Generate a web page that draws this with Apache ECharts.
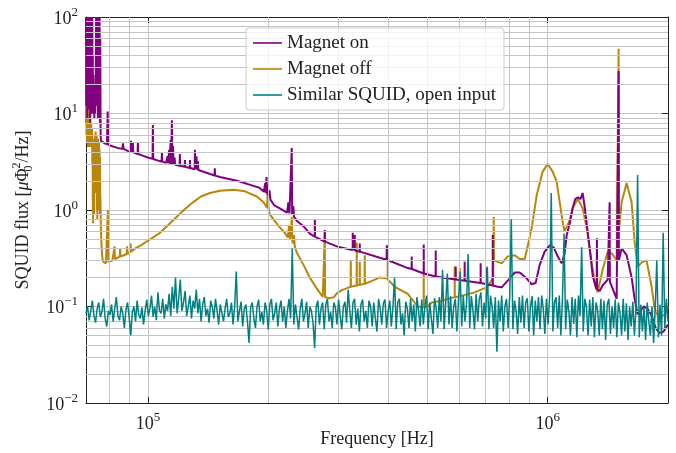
<!DOCTYPE html>
<html>
<head>
<meta charset="utf-8">
<title>SQUID flux spectrum</title>
<script src="https://cdn.jsdelivr.net/npm/echarts@6.0.0/dist/echarts.min.js"></script>
<style>
    html, body { margin: 0; padding: 0; background: #fff; }
    #chart { width: 676px; height: 453px; }
</style>
</head>
<body>
<div id="chart"></div>
<script>
    // [frequency Hz, flux]
    var magnetOn = [
        [70000, 100], [70100, 12], [70200, 100], [70300, 30], [70400, 100], [70500, 9], [70600, 100],
        [70700, 25], [70800, 100], [70900, 14], [71000, 100], [71100, 40], [71200, 100], [71300, 11],
        [71400, 100], [71500, 20], [71600, 100], [71700, 8], [71800, 60], [71900, 15], [72000, 100],
        [72100, 30], [72200, 100], [72300, 10], [72400, 100], [72500, 18], [72600, 100], [72700, 12],
        [72800, 40], [72900, 10], [73000, 25], [73150, 11], [73300, 16], [73450, 9], [73600, 20], [73750, 10],
        [73900, 14], [74050, 30], [74200, 100], [74350, 12], [74500, 100], [74650, 20], [74800, 100],
        [74950, 9], [75100, 100], [75250, 30], [75400, 100], [75550, 14], [75700, 100], [75850, 8],
        [76000, 60], [76150, 6], [76300, 5.2], [76800, 5.0], [78000, 4.9], [79000, 4.8], [79300, 10.5],
        [79600, 4.75], [81000, 4.6], [84000, 4.4], [86300, 4.3], [86600, 4.9], [86900, 4.3], [89000, 4.1],
        [90500, 4.0], [90700, 5.2], [90900, 4.0], [91500, 3.95], [91700, 5.0], [91900, 3.95], [94200, 3.8],
        [94400, 5.0], [94600, 3.8], [98000, 3.6], [101000, 3.45], [102700, 3.4], [102900, 7.6], [103100, 3.38],
        [106000, 3.25], [108200, 3.18], [108400, 3.9], [108600, 3.17], [111000, 3.08], [112000, 3.6],
        [112300, 3.05], [113000, 4.2], [113300, 3.02], [114000, 5.3], [114300, 3.0], [114800, 8.5],
        [115100, 3.0], [115600, 4.6], [115900, 2.98], [116600, 3.5], [117000, 2.95], [120000, 2.88],
        [120200, 3.8], [120400, 2.87], [123600, 2.8], [123800, 3.3], [124000, 2.8], [127200, 2.72],
        [127400, 3.3], [127600, 2.72], [130900, 2.65], [131100, 4.2], [131400, 2.65], [132300, 3.6],
        [132600, 2.62], [133200, 2.6], [133400, 3.2], [133700, 2.6], [135000, 2.5], [146800, 2.28],
        [147000, 2.7], [147200, 2.27], [151400, 2.2], [168000, 2.0], [182000, 1.8], [190000, 1.7],
        [195000, 1.55], [196500, 1.9], [197000, 1.5], [198000, 2.2], [198800, 1.45], [199500, 1.8],
        [200500, 1.35], [201500, 1.6], [202500, 1.28], [207000, 1.12], [213800, 1.04], [220000, 0.97],
        [223000, 0.94], [224500, 1.2], [226000, 0.92], [228500, 0.9], [229000, 4.4], [229500, 0.9],
        [231000, 1.1], [232000, 0.85], [236000, 0.77], [245000, 0.68], [254000, 0.57], [261300, 0.53],
        [261600, 0.79], [261900, 0.53], [276700, 0.47], [277000, 0.62], [277300, 0.47], [296800, 0.42],
        [320000, 0.39], [325200, 0.385], [325400, 0.58], [325700, 0.385], [329000, 0.38], [329200, 0.55],
        [329500, 0.38], [338500, 0.37], [338800, 0.45], [339100, 0.37], [380200, 0.32], [395500, 0.305],
        [395800, 0.43], [396100, 0.305], [446700, 0.25], [456800, 0.245], [457100, 0.33], [457400, 0.245],
        [489500, 0.22], [489800, 0.44], [490100, 0.22], [524500, 0.205], [524800, 0.38], [525100, 0.205],
        [588500, 0.19], [588800, 0.26], [589100, 0.19], [619700, 0.185], [620000, 0.29], [620300, 0.185],
        [679500, 0.175], [679800, 0.28], [680100, 0.175], [703400, 0.17], [703700, 0.25], [704000, 0.17],
        [728500, 0.165], [728800, 0.55], [729100, 0.165], [749900, 0.16], [767400, 0.158], [798700, 0.19],
        [827400, 0.225], [851000, 0.225], [881000, 0.2], [912000, 0.17], [933000, 0.175], [955000, 0.27],
        [982900, 0.37], [1012000, 0.43], [1035000, 0.41], [1060000, 0.33], [1084000, 0.28], [1102000, 0.35],
        [1116000, 0.55], [1135000, 0.72], [1155000, 1.05], [1172000, 1.3], [1189000, 1.35], [1209000, 1.3],
        [1223000, 1.5], [1237000, 1.1], [1259000, 0.6], [1274000, 0.4], [1296000, 0.21], [1318000, 0.16],
        [1326000, 0.15], [1328000, 0.51], [1330000, 0.15], [1349000, 0.145], [1372000, 0.165],
        [1413000, 0.19], [1427000, 0.185], [1429000, 1.2], [1431000, 0.18], [1452000, 0.155],
        [1488000, 0.12], [1503000, 0.12], [1505000, 27.6], [1507000, 0.3], [1531000, 0.4], [1576000, 0.34],
        [1622000, 0.2], [1650000, 0.12], [1679000, 0.083], [1708000, 0.09], [1738000, 0.1], [1778000, 0.095],
        [1820000, 0.08], [1862000, 0.06], [1905000, 0.053], [1950000, 0.055], [2000000, 0.065]
    ];

    var magnetOff = [
        [70000, 8], [70100, 30], [70200, 6], [70300, 10], [70400, 5], [70500, 12], [70600, 5.5], [70700, 9],
        [70800, 4.5], [70900, 7], [71000, 11], [71100, 5], [71200, 8], [71300, 4.8], [71400, 10], [71500, 6],
        [71600, 4.5], [71700, 9], [71800, 5.5], [71900, 7], [72000, 4.6], [72100, 8], [72200, 5], [72300, 6.5],
        [72400, 4.5], [72500, 7], [72600, 3], [72700, 5], [72800, 1.2], [72900, 0.73], [73000, 4.5], [73100, 2],
        [73200, 5.5], [73300, 0.9], [73400, 4.8], [73500, 3], [73600, 5.2], [73700, 1.5], [73800, 6],
        [73900, 4.5], [74000, 6.5], [74100, 3.5], [74200, 5], [74300, 2], [74400, 6], [74500, 1.0], [74600, 4.5],
        [74700, 0.8], [74800, 5], [74900, 3.5], [75000, 5.5], [75100, 2.5], [75200, 4.5], [75300, 1.0],
        [75400, 5], [75500, 4], [75600, 1.4], [75700, 4.2], [75800, 0.9], [75900, 3.5], [76000, 1.5],
        [76150, 1.0], [76300, 0.6], [76600, 0.4], [77000, 0.31], [77300, 0.29], [77600, 0.28], [78500, 0.28],
        [79200, 0.29], [79400, 1.0], [79600, 0.29], [80300, 0.29], [81500, 0.3], [82300, 0.31], [82500, 0.42],
        [82700, 0.31], [84000, 0.32], [85000, 0.33], [85200, 0.40], [85400, 0.33], [87000, 0.34], [88500, 0.35],
        [88700, 0.42], [88900, 0.35], [90200, 0.37], [90500, 0.45], [90800, 0.37], [93000, 0.4], [96000, 0.43],
        [100000, 0.48], [107200, 0.58], [114800, 0.76], [123000, 1.0], [129600, 1.2], [135700, 1.38],
        [142900, 1.5], [151400, 1.58], [164100, 1.62], [174800, 1.56], [187300, 1.38], [194000, 1.22],
        [196100, 1.15], [198500, 1.05], [199500, 1.6], [200500, 1.0], [201800, 0.9], [207000, 0.78],
        [213800, 0.66], [220000, 0.58], [223900, 0.52], [225500, 0.7], [226500, 0.5], [228000, 0.6],
        [229000, 0.85], [230000, 0.45], [232000, 0.55], [233000, 0.42], [235800, 0.36], [245000, 0.27],
        [254100, 0.2], [264000, 0.155], [273800, 0.126], [276800, 0.126], [277000, 0.58], [277400, 0.125],
        [285000, 0.122], [292000, 0.125], [296800, 0.137], [305000, 0.147], [314800, 0.155], [321400, 0.16],
        [321700, 0.3], [322000, 0.16], [332700, 0.165], [333000, 0.46], [333300, 0.165], [338500, 0.168],
        [338800, 0.29], [339100, 0.168], [348400, 0.172], [348700, 0.34], [349000, 0.172], [358900, 0.18],
        [380200, 0.2], [397800, 0.195], [398100, 0.43], [398400, 0.19], [414500, 0.16], [446700, 0.135],
        [473200, 0.1], [489500, 0.098], [489800, 0.23], [490100, 0.098], [501200, 0.1], [513000, 0.11],
        [543300, 0.115], [585200, 0.125], [585500, 0.26], [585800, 0.125], [602700, 0.128], [603000, 0.25],
        [603300, 0.128], [656900, 0.14], [707900, 0.16], [731000, 0.2], [732800, 0.85], [734500, 0.3],
        [749900, 0.29], [767400, 0.28], [794300, 0.33], [827400, 0.34], [851000, 0.31], [876000, 0.31],
        [886400, 0.38], [912000, 0.65], [938800, 1.42], [971700, 2.5], [1000000, 3.0], [1029000, 2.5],
        [1053000, 1.97], [1072000, 1.2], [1090000, 0.75], [1102000, 0.6], [1135000, 0.78], [1155000, 1.05],
        [1189000, 1.3], [1223000, 1.05], [1252000, 0.65], [1288000, 0.29], [1311000, 0.18], [1334000, 0.14],
        [1372000, 0.24], [1413000, 0.37], [1452000, 0.35], [1488000, 0.3], [1503000, 0.3], [1505000, 47],
        [1507000, 0.6], [1531000, 1.2], [1576000, 1.9], [1622000, 1.2], [1650000, 0.47], [1679000, 0.26],
        [1728000, 0.29], [1768000, 0.3], [1820000, 0.16], [1851000, 0.097], [1905000, 0.073],
        [1961000, 0.083], [2000000, 0.1]
    ];

    // open-input SQUID noise, one sample every 0.004 decade from 10^4.845 Hz
    var tealLogStart = 4.845;
    var tealLogStep = 0.004;
    var tealFlux = [
        0.085, 0.10, 0.072, 0.09, 0.115, 0.08, 0.068, 0.095, 0.11, 0.078,
        0.088, 0.12, 0.075, 0.062, 0.09, 0.082, 0.105, 0.07, 0.095, 0.125,
        0.08, 0.072, 0.1, 0.085, 0.06, 0.092, 0.11, 0.078, 0.05, 0.088,
        0.1, 0.07, 0.115, 0.082, 0.075, 0.098, 0.065, 0.09, 0.118, 0.08,
        0.095, 0.13, 0.078, 0.1, 0.072, 0.14, 0.09, 0.085, 0.12, 0.075,
        0.105, 0.09, 0.135, 0.08, 0.16, 0.095, 0.2, 0.085, 0.12, 0.19,
        0.09, 0.11, 0.145, 0.08, 0.1, 0.13, 0.075, 0.115, 0.095, 0.15,
        0.085, 0.12, 0.07, 0.105, 0.125, 0.08, 0.095, 0.068, 0.115, 0.1,
        0.075, 0.12, 0.09, 0.065, 0.105, 0.11, 0.07, 0.095, 0.12, 0.078,
        0.085, 0.11, 0.065, 0.1, 0.23, 0.07, 0.09, 0.112, 0.062, 0.095,
        0.105, 0.07, 0.042, 0.098, 0.11, 0.075, 0.06, 0.1, 0.118, 0.07,
        0.088, 0.065, 0.11, 0.092, 0.058, 0.105, 0.12, 0.072, 0.085, 0.11,
        0.062, 0.095, 0.115, 0.07, 0.1, 0.06, 0.09, 0.12, 0.075, 0.40,
        0.065, 0.105, 0.11, 0.058, 0.095, 0.12, 0.07, 0.085, 0.112, 0.06,
        0.1, 0.09, 0.068, 0.037, 0.1, 0.115, 0.065, 0.095, 0.11, 0.058,
        0.105, 0.12, 0.07, 0.088, 0.06, 0.11, 0.098, 0.065, 0.118, 0.08,
        0.058, 0.1, 0.112, 0.068, 0.15, 0.09, 0.06, 0.11, 0.12, 0.065,
        0.095, 0.055, 0.105, 0.118, 0.07, 0.09, 0.06, 0.115, 0.1, 0.062,
        0.11, 0.075, 0.055, 0.12, 0.095, 0.065, 0.108, 0.118, 0.06, 0.09,
        0.115, 0.062, 0.1, 0.20, 0.058, 0.11, 0.12, 0.065, 0.085, 0.05,
        0.112, 0.095, 0.06, 0.12, 0.07, 0.105, 0.055, 0.125, 0.09, 0.062,
        0.118, 0.065, 0.1, 0.13, 0.058, 0.11, 0.075, 0.052, 0.122, 0.095,
        0.06, 0.125, 0.07, 0.24, 0.058, 0.11, 0.22, 0.065, 0.128, 0.06,
        0.1, 0.12, 0.055, 0.118, 0.23, 0.062, 0.13, 0.07, 0.105, 0.35,
        0.06, 0.128, 0.092, 0.058, 0.135, 0.07, 0.12, 0.14, 0.062, 0.11,
        0.075, 0.26, 0.058, 0.13, 0.1, 0.06, 0.125, 0.034, 0.115, 0.07,
        0.13, 0.055, 0.1, 0.12, 0.06, 0.128, 0.80, 0.058, 0.115, 0.09,
        0.052, 0.125, 0.068, 0.13, 0.06, 0.11, 0.122, 0.055, 0.1, 0.128,
        0.05, 0.115, 0.07, 0.125, 0.058, 0.13, 0.095, 0.052, 0.12, 0.065,
        0.128, 1.5, 0.055, 0.11, 0.125, 0.06, 0.13, 0.05, 0.12, 0.57,
        0.058, 0.118, 0.09, 0.05, 0.125, 0.066, 0.12, 0.048, 0.13, 0.08,
        0.41, 0.055, 0.12, 0.1, 0.05, 0.118, 0.062, 0.125, 0.048, 0.11,
        0.092, 0.05, 0.12, 0.058, 0.115, 0.045, 0.105, 0.12, 0.052, 0.1,
        0.06, 0.118, 0.048, 0.11, 0.085, 0.05, 0.12, 0.055, 0.108, 0.045,
        0.1, 0.062, 0.112, 0.05, 0.095, 2.3, 0.048, 0.105, 0.055, 0.098,
        0.045, 0.11, 0.07, 0.05, 0.1, 0.042, 0.095, 0.30, 0.048, 0.105,
        0.05, 0.58, 0.06, 0.12, 0.07
    ];

    // minor grid positions (2..9 x 10^n)
    var xMinorGrid = [80000, 90000, 200000, 300000, 400000, 500000, 600000, 700000, 800000, 900000];
    var yMinorGrid = [0.02, 0.03, 0.04, 0.05, 0.06, 0.07, 0.08, 0.09,
        0.2, 0.3, 0.4, 0.5, 0.6, 0.7, 0.8, 0.9,
        2, 3, 4, 5, 6, 7, 8, 9,
        20, 30, 40, 50, 60, 70, 80, 90];

    var FONT = '"Liberation Serif", "DejaVu Serif", serif';
    var gridColor = '#c4c4c4';

    function isDecade(v) {
        var l = Math.log10(v);
        return Math.abs(l - Math.round(l)) < 1e-6;
    }
    function powLabel(v) {
        if (!isDecade(v)) return '';
        var e = Math.round(Math.log10(v));
        return '{b|10}{s|' + (e < 0 ? '\u2212' + (-e) : e) + '}';
    }
    var powRich = {
        b: { fontFamily: FONT, fontSize: 18, color: '#222', verticalAlign: 'bottom', lineHeight: 22 },
        s: { fontFamily: FONT, fontSize: 13, color: '#222', verticalAlign: 'top', lineHeight: 14 }
    };

    var tealData = tealFlux.map(function (v, i) {
        return [Math.pow(10, tealLogStart + i * tealLogStep), v];
    });

    var gridLines = xMinorGrid.map(function (v) { return { xAxis: v }; })
        .concat(yMinorGrid.map(function (v) { return { yAxis: v }; }));

    var option = {
        animation: false,
        backgroundColor: '#fff',
        grid: { left: 86, right: 8, top: 17, bottom: 50, containLabel: false, outerBoundsMode: 'none' },
        legend: {
            data: ['Magnet on', 'Magnet off', 'Similar SQUID, open input'],
            orient: 'vertical',
            left: 246,
            top: 28,
            z: 10,
            icon: 'rect',
            padding: [5, 8, 5, 7],
            itemWidth: 29,
            itemHeight: 1.6,
            itemGap: 6,
            itemStyle: { borderWidth: 0 },
            backgroundColor: 'rgba(255,255,255,0.8)',
            borderColor: '#cccccc',
            borderWidth: 1,
            borderRadius: 3,
            textStyle: { fontFamily: FONT, fontSize: 19, color: '#222', lineHeight: 20 }
        },
        xAxis: [{
            type: 'log',
            logBase: 10,
            min: 70000,
            max: 2000000,
            name: 'Frequency [Hz]',
            nameLocation: 'middle',
            nameGap: 27,
            nameMoveOverlap: false,
            nameTextStyle: { fontFamily: FONT, fontSize: 18, color: '#222' },
            axisLine: { show: true, lineStyle: { color: '#222', width: 1 } },
            axisTick: { show: true, inside: true, length: 6, lineStyle: { color: '#222' } },
            axisLabel: { formatter: powLabel, rich: powRich, margin: 8, showMinLabel: false, showMaxLabel: false },
            splitLine: { show: true, lineStyle: { color: gridColor, width: 1 } }
        }, {
            type: 'log',
            logBase: 10,
            min: 70000,
            max: 2000000,
            position: 'top',
            axisLine: { show: true, lineStyle: { color: '#222', width: 1 } },
            axisTick: { show: true, inside: true, length: 6, lineStyle: { color: '#222' } },
            axisLabel: { show: false },
            splitLine: { show: false }
        }],
        yAxis: [{
            type: 'log',
            logBase: 10,
            min: 0.01,
            max: 100,
            name: '{t|SQUID flux [}{i|\u03bc}{t|\u03a6}{sub|0}{sup|2}{t|/Hz]}',
            nameLocation: 'middle',
            nameRotate: 90,
            nameGap: 51,
            nameMoveOverlap: false,
            nameTextStyle: {
                rich: {
                    t: { fontFamily: FONT, fontSize: 18, color: '#222', verticalAlign: 'middle', lineHeight: 24 },
                    i: { fontFamily: FONT, fontSize: 18, color: '#222', fontStyle: 'italic', lineHeight: 24 },
                    sub: { fontFamily: FONT, fontSize: 12, color: '#222', verticalAlign: 'bottom', lineHeight: 12, width: 0 },
                    sup: { fontFamily: FONT, fontSize: 12, color: '#222', verticalAlign: 'top', lineHeight: 12 }
                }
            },
            axisLine: { show: true, lineStyle: { color: '#222', width: 1 } },
            axisTick: { show: true, inside: true, length: 6, lineStyle: { color: '#222' } },
            axisLabel: { formatter: powLabel, rich: powRich, margin: 8 },
            splitLine: { show: true, lineStyle: { color: gridColor, width: 1 } }
        }, {
            type: 'log',
            logBase: 10,
            min: 0.01,
            max: 100,
            position: 'right',
            axisLine: { show: true, lineStyle: { color: '#222', width: 1 } },
            axisTick: { show: true, inside: true, length: 6, lineStyle: { color: '#222' } },
            axisLabel: { show: false },
            splitLine: { show: false }
        }],
        series: [{
            name: 'minor grid',
            type: 'line',
            data: [],
            z: 1,
            silent: true,
            markLine: {
                silent: true,
                symbol: ['none', 'none'],
                label: { show: false },
                lineStyle: { color: gridColor, width: 1, type: 'solid' },
                emphasis: { disabled: true },
                data: gridLines
            }
        }, {
            name: 'Magnet off',
            type: 'line',
            data: magnetOff,
            z: 3,
            symbol: 'none',
            showSymbol: false,
            clip: true,
            color: '#b8860b',
            lineStyle: { color: '#b8860b', width: 2 },
            emphasis: { disabled: true }
        }, {
            name: 'Magnet on',
            type: 'line',
            data: magnetOn,
            z: 4,
            symbol: 'none',
            showSymbol: false,
            clip: true,
            color: '#800080',
            lineStyle: { color: '#800080', width: 2 },
            emphasis: { disabled: true }
        }, {
            name: 'Similar SQUID, open input',
            type: 'line',
            data: tealData,
            z: 5,
            symbol: 'none',
            showSymbol: false,
            clip: true,
            color: '#008080',
            lineStyle: { color: '#008080', width: 1.5 },
            emphasis: { disabled: true }
        }]
    };

    var myChart = echarts.init(document.getElementById('chart'), null, { renderer: 'canvas' });
    myChart.setOption(option);
</script>
</body>
</html>
